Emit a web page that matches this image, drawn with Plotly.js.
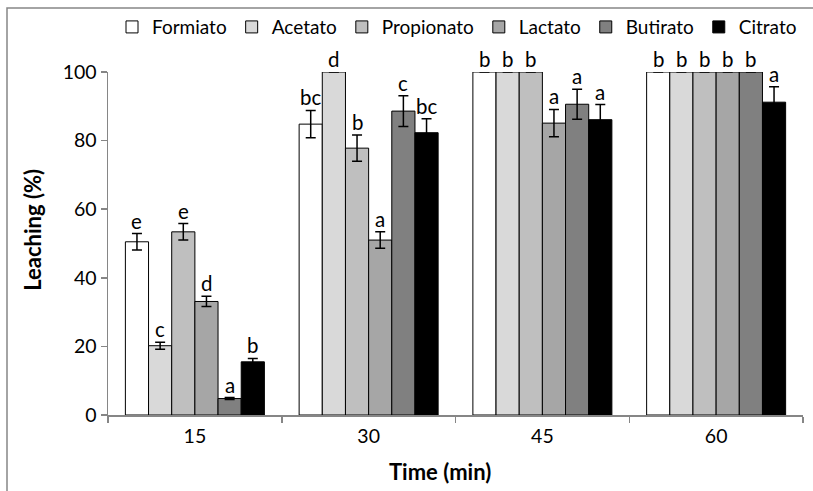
<!DOCTYPE html>
<html>
<head>
<meta charset="utf-8">
<script src="https://cdn.plot.ly/plotly-3.0.1.min.js"></script>
<style>html,body{margin:0;padding:0;background:#fff;}#chart{width:813px;height:491px;}</style>
</head>
<body>
<div id="chart"></div>
<script>
// Data
var times = ['15', '30', '45', '60'];
var seriesNames = ['Formiato', 'Acetato', 'Propionato', 'Lactato', 'Butirato', 'Citrato'];
var formiato   = [50.5, 84.8, 100, 100];
var acetato    = [20.2, 100, 100, 100];
var propionato = [53.4, 77.8, 100, 100];
var lactato    = [33.1, 51.0, 85.1, 100];
var butirato   = [4.8, 88.6, 90.6, 100];
var citrato    = [15.5, 82.3, 86.1, 91.2];
var errFormiato   = [2.4, 4.0, 0, 0];
var errAcetato    = [1.0, 0, 0, 0];
var errPropionato = [2.4, 3.8, 0, 0];
var errLactato    = [1.5, 2.4, 4.0, 0];
var errButirato   = [0.3, 4.5, 4.4, 0];
var errCitrato    = [1.0, 4.1, 4.4, 4.5];
var lettersFormiato   = ['e', 'bc', 'b', 'b'];
var lettersAcetato    = ['c', 'd', 'b', 'b'];
var lettersPropionato = ['e', 'b', 'b', 'b'];
var lettersLactato    = ['d', 'a', 'a', 'b'];
var lettersButirato   = ['a', 'c', 'a', 'b'];
var lettersCitrato    = ['b', 'bc', 'a', 'a'];
var yTicks = [0, 20, 40, 60, 80, 100];
var xTitle = 'Time (min)';
var yTitle = 'Leaching (%)';

var values = [formiato, acetato, propionato, lactato, butirato, citrato];
var errors = [errFormiato, errAcetato, errPropionato, errLactato, errButirato, errCitrato];
var letters = [lettersFormiato, lettersAcetato, lettersPropionato, lettersLactato, lettersButirato, lettersCitrato];
var colors = ['#ffffff', '#d9d9d9', '#bfbfbf', '#a6a6a6', '#808080', '#000000'];

var FONT = 'Lato, "Open Sans", sans-serif';
var bargap = 0.2;
var nS = seriesNames.length;
var bw = (1 - bargap) / nS;

var traces = seriesNames.map(function (name, i) {
  return {
    type: 'bar',
    name: name,
    x: times,
    y: values[i],
    marker: {color: colors[i], line: {color: '#000000', width: 1}},
    error_y: {type: 'data', array: errors[i], visible: true, color: '#000000', thickness: 1.5, width: 5},
    hoverinfo: 'x+y+name'
  };
});

var L = 108, T = 72, W = 813, H = 491, B = 75.5, R = 10;
var pw = W - L - R, ph = H - T - B;

var annotations = [];
seriesNames.forEach(function (name, i) {
  times.forEach(function (t, k) {
    annotations.push({
      xref: 'x', yref: 'y',
      x: k - (1 - bargap) / 2 + (i + 0.5) * bw,
      y: values[i][k] + errors[i][k],
      text: letters[i][k],
      showarrow: false,
      xanchor: 'center', yanchor: 'bottom',
      yshift: -1,
      font: {family: FONT, size: 20.5, color: '#000000'}
    });
  });
});
// axis titles
annotations.push({
  xref: 'paper', yref: 'paper',
  x: (440 - L) / pw, y: (H - B - 472) / ph,
  xanchor: 'center', yanchor: 'middle', showarrow: false,
  text: '<b>' + xTitle + '</b>',
  font: {family: FONT, size: 22, color: '#000000'}
});
annotations.push({
  xref: 'paper', yref: 'paper',
  x: (33 - L) / pw, y: (H - B - 230) / ph,
  xanchor: 'center', yanchor: 'middle', showarrow: false,
  textangle: -90,
  text: '<b>' + yTitle + '</b>',
  font: {family: FONT, size: 22, color: '#000000'}
});

var layout = {
  width: W, height: H,
  margin: {l: L, r: R, t: T, b: B, pad: 0, autoexpand: false},
  paper_bgcolor: '#ffffff',
  plot_bgcolor: '#ffffff',
  barmode: 'group',
  bargap: bargap,
  bargroupgap: 0,
  font: {family: FONT, size: 19, color: '#000000'},
  showlegend: true,
  legend: {
    orientation: 'h',
    x: (802 - L) / pw, xanchor: 'right',
    y: (H - B - 27) / ph, yanchor: 'middle',
    font: {family: FONT, size: 19, color: '#000000'},
    itemwidth: 30,
    traceorder: 'normal',
    bgcolor: 'rgba(0,0,0,0)'
  },
  xaxis: {
    type: 'category',
    automargin: false,
    showline: true, linecolor: '#868686', linewidth: 1.5,
    ticks: 'outside', tickson: 'boundaries', ticklen: 6, tickcolor: '#868686', tickwidth: 1.5,
    ticklabelstandoff: 3,
    showgrid: false, zeroline: false,
    tickfont: {family: FONT, size: 19.5, color: '#000000'}
  },
  yaxis: {
    range: [0, 100],
    automargin: false,
    tickvals: yTicks,
    showline: true, linecolor: '#868686', linewidth: 1.5,
    ticks: 'outside', ticklen: 6, tickcolor: '#868686', tickwidth: 1.5,
    showgrid: false, zeroline: false,
    tickfont: {family: FONT, size: 19.5, color: '#000000'}
  },
  annotations: annotations,
  shapes: [{
    type: 'rect', xref: 'paper', yref: 'paper', layer: 'below',
    x0: (7 - L) / pw, x1: (W + 20 - L) / pw,
    y0: -(B + 20) / ph, y1: (H - B - 8) / ph,
    line: {color: '#868686', width: 1.5}, fillcolor: 'rgba(0,0,0,0)'
  }]
};

Plotly.newPlot('chart', traces, layout, {displayModeBar: false, staticPlot: true});
</script>
</body>
</html>
